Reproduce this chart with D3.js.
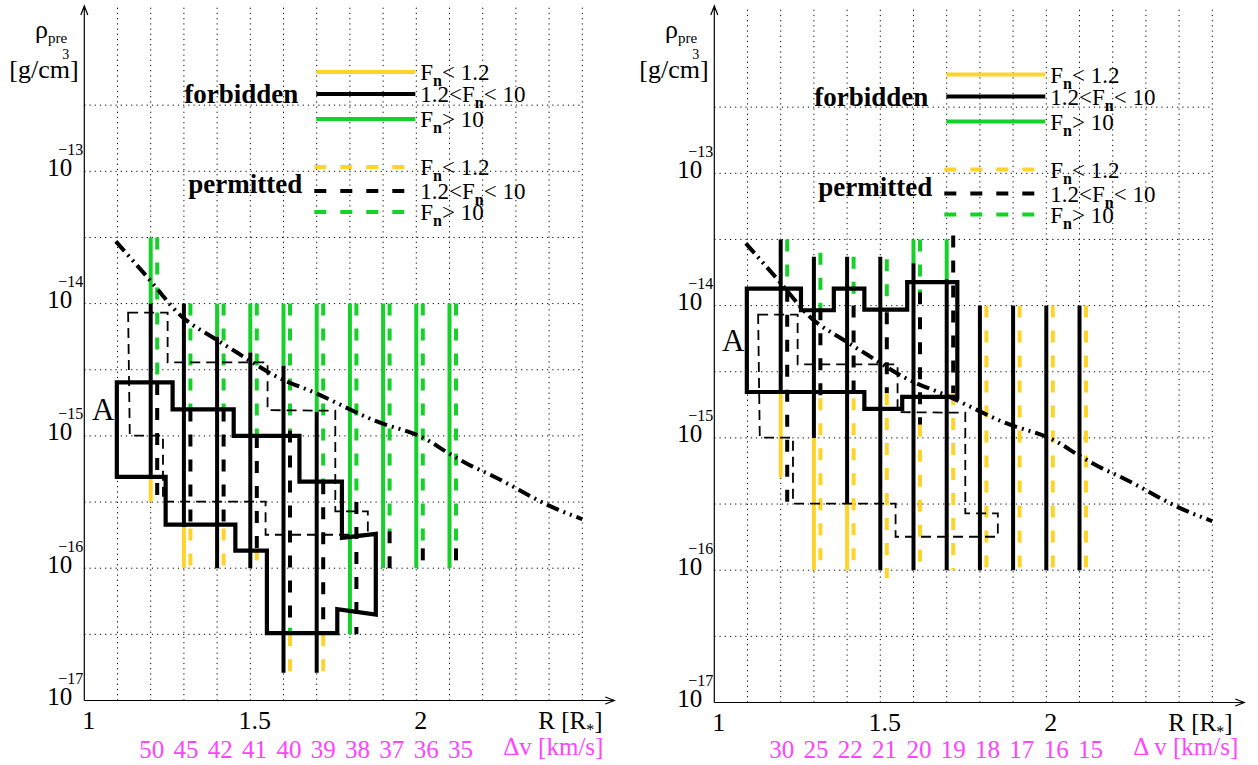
<!DOCTYPE html>
<html><head><meta charset="utf-8">
<script src="https://cdn.jsdelivr.net/npm/d3@7/dist/d3.min.js"></script>
<style>
html,body{margin:0;padding:0;background:#fff;overflow:hidden;}
svg{display:block;font-family:"Liberation Serif","Times New Roman",Times,serif;}
text{font-family:"Liberation Serif","Times New Roman",Times,serif;}
</style></head><body>
<svg id="chart" width="1258" height="765"></svg>
<script>
// ---------------- DATA ----------------
const radii = [1.2,1.3,1.4,1.5,1.6,1.7,1.8,1.9,2.0,2.1];
const xTicks = [1, 1.5, 2];
const yTickExps = [-17,-16,-15,-14,-13];
const gridR = [1.1,1.2,1.3,1.4,1.5,1.6,1.7,1.8,1.9,2.0,2.1,2.2,2.3,2.4,2.5];
const gridE = [-16.5,-16,-15.5,-15,-14.5,-14,-13.5,-13,-12.5];
const dvLeft  = ["50","45","42","41","40","39","38","37","36","35"];
const dvRight = ["30","25","22","21","20","19","18","17","16","15"];
const fnClasses = ["low","mid","high"];
const fnLabels = [["F","n","< 1.2"],["1.2<F","n","< 10"],["F","n","> 10"]];
const groupLabels = ["forbidden","permitted"];

// segments: [R, F_n class, log10(rho) top, log10(rho) bottom]
const leftForbidden = [
 [1.2,"high",-13.5,-14.0],[1.2,"mid",-14.0,-15.31],[1.2,"low",-15.31,-15.5],
 [1.3,"mid",-14.0,-15.69],[1.3,"low",-15.69,-16.0],
 [1.4,"high",-14.0,-14.25],[1.4,"mid",-14.25,-16.0],
 [1.5,"high",-14.0,-14.37],[1.5,"mid",-14.37,-16.0],
 [1.6,"high",-14.0,-14.47],[1.6,"mid",-14.47,-16.79],
 [1.7,"high",-14.0,-14.82],[1.7,"mid",-14.82,-16.79],
 [1.8,"high",-14.0,-16.5],
 [1.9,"high",-14.0,-16.0],
 [2.0,"high",-14.0,-16.0],
 [2.1,"high",-14.0,-16.0]
];
const leftPermitted = [
 [1.2,"high",-13.5,-14.6],[1.2,"mid",-14.6,-15.5],
 [1.3,"high",-14.0,-14.8],[1.3,"mid",-14.8,-15.7],[1.3,"low",-15.7,-16.0],
 [1.4,"high",-14.0,-14.8],[1.4,"mid",-14.8,-15.7],[1.4,"low",-15.7,-16.0],
 [1.5,"high",-14.0,-15.0],[1.5,"mid",-15.0,-15.85],[1.5,"low",-15.85,-16.0],
 [1.6,"high",-14.0,-14.96],[1.6,"mid",-14.96,-16.45],[1.6,"high",-16.45,-16.5],[1.6,"low",-16.5,-16.78],
 [1.7,"high",-14.0,-15.35],[1.7,"mid",-15.35,-16.5],[1.7,"low",-16.5,-16.8],
 [1.8,"high",-14.0,-15.5],[1.8,"mid",-15.5,-16.5],
 [1.9,"high",-14.0,-15.72],[1.9,"mid",-15.72,-16.0],
 [2.0,"high",-14.0,-15.85],[2.0,"mid",-15.85,-16.0],
 [2.1,"high",-14.0,-15.85],[2.1,"mid",-15.85,-16.0]
];
const rightForbidden = [
 [1.2,"mid",-13.5,-14.66],[1.2,"low",-14.66,-15.3],
 [1.3,"mid",-13.63,-15.0],[1.3,"low",-15.0,-16.0],
 [1.4,"mid",-13.63,-15.5],[1.4,"low",-15.5,-16.0],
 [1.5,"mid",-13.63,-16.0],
 [1.6,"high",-13.5,-13.68],[1.6,"mid",-13.68,-16.0],
 [1.7,"high",-13.5,-13.8],[1.7,"mid",-13.8,-16.0],
 [1.8,"mid",-14.0,-16.0],[1.9,"mid",-14.0,-16.0],[2.0,"mid",-14.0,-16.0],[2.1,"mid",-14.0,-16.0]
];
const rightPermitted = [
 [1.2,"high",-13.5,-13.88],[1.2,"mid",-13.88,-15.5],
 [1.3,"high",-13.6,-14.02],[1.3,"mid",-14.02,-14.7],[1.3,"low",-14.7,-16.0],
 [1.4,"high",-13.63,-14.0],[1.4,"mid",-14.0,-14.7],[1.4,"low",-14.7,-16.0],
 [1.5,"high",-13.65,-14.05],[1.5,"mid",-14.05,-14.66],[1.5,"low",-14.66,-16.06],
 [1.6,"high",-13.5,-13.9],[1.6,"mid",-13.9,-14.9],[1.6,"low",-14.9,-16.0],
 [1.7,"mid",-13.47,-14.66],[1.7,"low",-14.66,-16.0],
 [1.8,"low",-14.0,-16.0],[1.9,"low",-14.0,-16.0],[2.0,"low",-14.0,-16.0],[2.1,"low",-14.0,-16.0]
];
// region outlines: [R, log10(rho)]
const leftForbiddenRegion = [
 [1.098,-14.595],[1.266,-14.595],[1.266,-14.80],[1.45,-14.80],[1.45,-15.0],[1.648,-15.0],
 [1.648,-15.345],[1.776,-15.345],[1.776,-15.77],[1.878,-15.74],[1.878,-16.35],[1.762,-16.31],
 [1.762,-16.49],[1.55,-16.49],[1.55,-15.867],[1.455,-15.867],[1.455,-15.67],[1.245,-15.67],
 [1.245,-15.31],[1.098,-15.31]
];
const rightForbiddenRegion = [
 [1.098,-13.872],[1.261,-13.872],[1.261,-14.035],[1.36,-14.035],[1.36,-13.872],[1.452,-13.872],
 [1.452,-14.03],[1.581,-14.03],[1.581,-13.822],[1.732,-13.822],[1.732,-14.69],[1.566,-14.69],
 [1.566,-14.78],[1.452,-14.78],[1.452,-14.653],[1.098,-14.653]
];
const permittedRegion = [
 [1.132,-14.068],[1.251,-14.068],[1.251,-14.445],[1.552,-14.445],[1.552,-14.805],[1.756,-14.81],
 [1.756,-15.57],[1.854,-15.57],[1.854,-15.747],[1.546,-15.747],[1.546,-15.497],[1.237,-15.497],
 [1.237,-14.998],[1.137,-14.998]
];
const limitCurve = [
 [1.095,-13.53],[1.19,-13.80],[1.29,-14.09],[1.39,-14.26],[1.46,-14.37],[1.51,-14.45],
 [1.57,-14.54],[1.70,-14.68],[1.87,-14.88],[2.04,-15.04],[2.09,-15.12],[2.16,-15.22],
 [2.22,-15.29],[2.42,-15.55],[2.50,-15.63]
];

// ---------------- LAYOUT / STYLE ----------------
const svg = d3.select("#chart");
const UNIT = 332, DEC = 132.3, DASH_OFF = 6.5;
const colorOf = {low:"#ffd42a", mid:"#000000", high:"#15d12a"};
const MAGENTA = "#ff44ff";
const FONT = "Liberation Serif, Times New Roman, serif";
const panels = [
 {ox:84.3, oy:700.5, ly:0, forbidden:leftForbidden, permitted:leftPermitted,
  region:leftForbiddenRegion, dv:dvLeft, dvTitle:"\u0394v [km/s]", aPos:[1.023,-14.88]},
 {ox:714.3, oy:702.5, ly:2.5, forbidden:rightForbidden, permitted:rightPermitted,
  region:rightForbiddenRegion, dv:dvRight, dvTitle:"\u0394 v [km/s]", aPos:[1.023,-14.34]}
];
const legendRows = [72,94,119,167,191,212];
const gridStyle = s => s.attr("stroke","#000").attr("stroke-width",1).attr("stroke-dasharray","1.2,4").attr("fill","none");

panels.forEach(p => {
  const x = d3.scaleLinear().domain([1, 2.6]).range([p.ox, p.ox + 1.6*UNIT]);
  const y = d3.scaleLog().domain([1e-17, Math.pow(10,-11.75)]).range([p.oy, p.oy - 5.25*DEC]);
  const Y = e => y(Math.pow(10, e));
  const g = svg.append("g").attr("font-family",FONT);
  const topY = Y(-11.76);

  // grid
  g.append("g").selectAll("line").data(gridR).join("line")
    .attr("x1",d=>x(d)).attr("x2",d=>x(d)).attr("y1",p.oy).attr("y2",topY).call(gridStyle);
  g.append("g").selectAll("line").data(gridE).join("line")
    .attr("x1",p.ox).attr("x2",x(2.5)).attr("y1",d=>Y(d)).attr("y2",d=>Y(d)).call(gridStyle);

  // vertical F_n lines: forbidden (solid) and permitted (dashed)
  g.append("g").selectAll("line").data(p.forbidden).join("line")
    .attr("x1",d=>x(d[0])).attr("x2",d=>x(d[0]))
    .attr("y1",d=>Y(d[2])).attr("y2",d=>Y(d[3]))
    .attr("stroke",d=>colorOf[d[1]]).attr("stroke-width",4);
  g.append("g").selectAll("line").data(p.permitted).join("line")
    .attr("x1",d=>x(d[0])+DASH_OFF).attr("x2",d=>x(d[0])+DASH_OFF)
    .attr("y1",d=>Y(d[2])).attr("y2",d=>Y(d[3]))
    .attr("stroke",d=>colorOf[d[1]]).attr("stroke-width",4).attr("stroke-dasharray","12,13");

  // regions
  const ln = d3.line().x(d=>x(d[0])).y(d=>Y(d[1])).curve(d3.curveLinearClosed);
  g.append("path").attr("d", ln(permittedRegion)).attr("fill","none")
    .attr("stroke","#000").attr("stroke-width",1.8).attr("stroke-dasharray","10,6");
  g.append("path").attr("d", ln(p.region)).attr("fill","none")
    .attr("stroke","#000").attr("stroke-width",4.2).attr("stroke-linejoin","miter");

  // limit curve (dash-dot-dot)
  const lc = d3.line().x(d=>x(d[0])).y(d=>Y(d[1])).curve(d3.curveMonotoneX);
  g.append("path").attr("d", lc(limitCurve)).attr("fill","none")
    .attr("stroke","#000").attr("stroke-width",4).attr("stroke-dasharray","13,5,2,5,2,5");

  // "A" label
  g.append("text").attr("x",x(p.aPos[0])).attr("y",Y(p.aPos[1]))
    .attr("font-size",31).text("A");

  // axes lines with arrows
  const xTip = p.ox + 530, yTip = 6;
  g.append("path").attr("d",`M${p.ox},${p.oy}L${p.ox},${yTip}M${p.ox-3.5},${yTip+9}L${p.ox},${yTip}L${p.ox+3.5},${yTip+9}`)
    .attr("stroke","#000").attr("stroke-width",1.2).attr("fill","none");
  g.append("path").attr("d",`M${p.ox},${p.oy}L${xTip},${p.oy}M${xTip-9},${p.oy-3.5}L${xTip},${p.oy}L${xTip-9},${p.oy+3.5}`)
    .attr("stroke","#000").attr("stroke-width",1.2).attr("fill","none");

  // x axis ticks
  const xa = g.append("g").attr("transform",`translate(0,${p.oy})`)
    .call(d3.axisBottom(x).tickValues(xTicks).tickSize(0).tickFormat(d=>String(d)));
  xa.select(".domain").remove();
  xa.attr("font-family",FONT).attr("font-size",null);
  xa.selectAll("text").attr("y",28).attr("dy",null).attr("dx",4)
    .attr("font-size",26).attr("fill","#000");

  // y axis ticks
  const ya = g.append("g").attr("transform",`translate(${p.ox},0)`)
    .call(d3.axisLeft(y).tickValues(yTickExps.map(e=>Math.pow(10,e))).tickSize(0).tickFormat(()=>""));
  ya.select(".domain").remove();
  ya.attr("font-family",FONT).attr("font-size",null);
  ya.selectAll(".tick").each(function(d,i){
    const t = d3.select(this);
    t.append("text").attr("x",-12).attr("y",4).attr("text-anchor","end")
      .attr("font-size",25).attr("fill","#000").text("10");
    t.append("text").attr("x",-1).attr("y",-17).attr("text-anchor","end")
      .attr("font-size",16).attr("fill","#000").text("\u2212"+(-yTickExps[i]));
  });

  // axis titles
  const yl = g.append("text").attr("x",p.ox-49.3).attr("y",38).attr("font-size",26);
  yl.append("tspan").text("\u03c1");
  yl.append("tspan").attr("font-size",15).attr("dy",5).text("pre");
  g.append("text").attr("x",p.ox-75).attr("y",78).attr("font-size",26).text("[g/cm]");
  g.append("text").attr("x",p.ox-22).attr("y",59).attr("font-size",14).text("3");

  const rl = g.append("text").attr("x",p.ox+454).attr("y",p.oy+28).attr("font-size",25);
  rl.append("tspan").text("R [R");
  rl.append("tspan").attr("font-size",16).attr("dy",6).text("*");
  rl.append("tspan").attr("dy",-6).text("]");

  // delta v labels
  const dvScale = d3.scalePoint().domain(p.dv).range([x(1.203), x(2.133)]);
  g.append("g").selectAll("text").data(p.dv).join("text")
    .attr("x",d=>dvScale(d)).attr("y",758).attr("text-anchor","middle")
    .attr("font-size",25).attr("fill",MAGENTA).text(d=>d);
  g.append("text").attr("x",p.ox+419).attr("y",755).attr("font-size",25)
    .attr("fill",MAGENTA).text(p.dvTitle);

  // legend
  const lg = g.append("g");
  legendRows.forEach((ry,i) => {
    const cls = fnClasses[i%3], dashed = i>=3, yy = ry + p.ly;
    lg.append("line").attr("x1",p.ox+(dashed?230:232)).attr("x2",p.ox+(dashed?322:331))
      .attr("y1",yy).attr("y2",yy).attr("stroke",colorOf[cls]).attr("stroke-width",4)
      .attr("stroke-dasharray",dashed?"12,14":null);
    const lab = fnLabels[i%3];
    const t = lg.append("text").attr("x",p.ox+336).attr("y",yy+8).attr("font-size",23);
    t.append("tspan").text(lab[0]);
    t.append("tspan").attr("font-weight","bold").attr("font-size",16).attr("dy",6).text(lab[1]);
    t.append("tspan").attr("dy",-6).text(lab[2]);
  });
  lg.append("text").attr("x",p.ox+100).attr("y",103+p.ly).attr("font-size",27)
    .attr("font-weight","bold").text(groupLabels[0]);
  lg.append("text").attr("x",p.ox+104).attr("y",193+p.ly).attr("font-size",27)
    .attr("font-weight","bold").text(groupLabels[1]);
});
</script>
</body></html>
